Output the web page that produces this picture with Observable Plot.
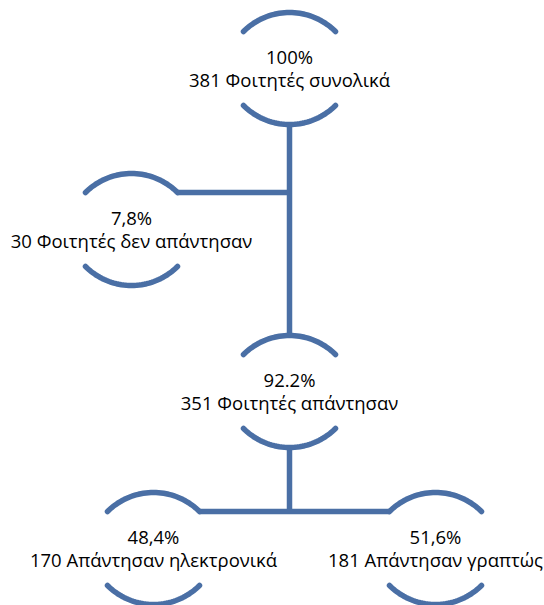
<!DOCTYPE html>
<html>
<head>
<meta charset="utf-8">
<script src="https://cdn.jsdelivr.net/npm/d3@7"></script>
<script src="https://cdn.jsdelivr.net/npm/@observablehq/plot@0.6"></script>
<style>
  html, body { margin: 0; padding: 0; background: #fff; }
</style>
</head>
<body>
<div id="chart"></div>
<script>
// ---- data ----
const percents = ["100%", "7,8%", "92.2%", "48,4%", "51,6%"];
const counts = [381, 30, 351, 170, 181];
const labels = ["Φοιτητές συνολικά", "Φοιτητές δεν απάντησαν", "Φοιτητές απάντησαν", "Απάντησαν ηλεκτρονικά", "Απάντησαν γραπτώς"];
const parents = [null, 0, 0, 2, 2];

// ---- layout (node centres, in pixel-like units) ----
const layout = [
  {x: 289, y: 68},
  {x: 131, y: 229},
  {x: 289, y: 391},
  {x: 153, y: 548},
  {x: 435, y: 548}
];
const HW = 46;   // half chord of each arc
const HH = 56;   // centre to arc apex
const SAG = 19;  // arc sagitta
const color = "#4a6fa5";

const nodes = percents.map((p, i) => ({
  i, pct: p, count: counts[i], label: labels[i], parent: parents[i], ...layout[i],
  text: `${p}\n${counts[i]} ${labels[i]}`
}));

// arc points (top and bottom of each node)
const r = (HW * HW + SAG * SAG) / (2 * SAG);
const theta = Math.asin(HW / r);
const arcPts = [];
nodes.forEach(n => {
  for (const side of ["top", "bottom"]) {
    const s = side === "top" ? -1 : 1;
    const cy = n.y + s * HH - s * r;
    for (let k = 0; k <= 40; k++) {
      const a = -theta + (2 * theta * k) / 40;
      arcPts.push({id: n.i + side, x: n.x + r * Math.sin(a), y: cy + s * r * Math.cos(a)});
    }
  }
});

// connectors from tree structure
const links = [];
const endY = n => n.y - HH + SAG;
nodes.forEach(p => {
  const kids = nodes.filter(n => n.parent === p.i);
  if (!kids.length) return;
  const side = kids.filter(k => k.x !== p.x);
  const below = kids.filter(k => k.x === p.x);
  if (below.length) {
    links.push({x1: p.x, y1: p.y + HH, x2: p.x, y2: below[0].y - HH});
    side.forEach(k => {
      const y = endY(k);
      const xe = k.x < p.x ? k.x + HW : k.x - HW;
      links.push({x1: xe, y1: y, x2: p.x, y2: y});
    });
  } else if (side.length) {
    const y = endY(side[0]);
    const xs = side.map(k => k.x < p.x ? k.x + HW : k.x - HW);
    links.push({x1: p.x, y1: p.y + HH, x2: p.x, y2: y});
    links.push({x1: d3.min(xs), y1: y, x2: d3.max(xs), y2: y});
  }
});

const chart = Plot.plot({
  width: 544,
  height: 605,
  margin: 0,
  x: {domain: [0, 544], range: [0, 544], axis: null},
  y: {domain: [0, 605], range: [0, 605], axis: null},
  style: {fontFamily: "'Open Sans', 'Liberation Sans', Arial, sans-serif", background: "#fff"},
  marks: [
    Plot.link(links, {x1: "x1", y1: "y1", x2: "x2", y2: "y2", stroke: color, strokeWidth: 5.5, strokeLinecap: "butt"}),
    Plot.line(arcPts, {x: "x", y: "y", z: "id", stroke: color, strokeWidth: 5.5, curve: "linear"}),
    Plot.text(nodes, {x: "x", y: "y", text: "text", fontSize: 18.5, lineHeight: 1.25, fill: "#000", textAnchor: "middle", lineAnchor: "middle"})
  ]
});
document.getElementById("chart").appendChild(chart);
</script>
</body>
</html>
